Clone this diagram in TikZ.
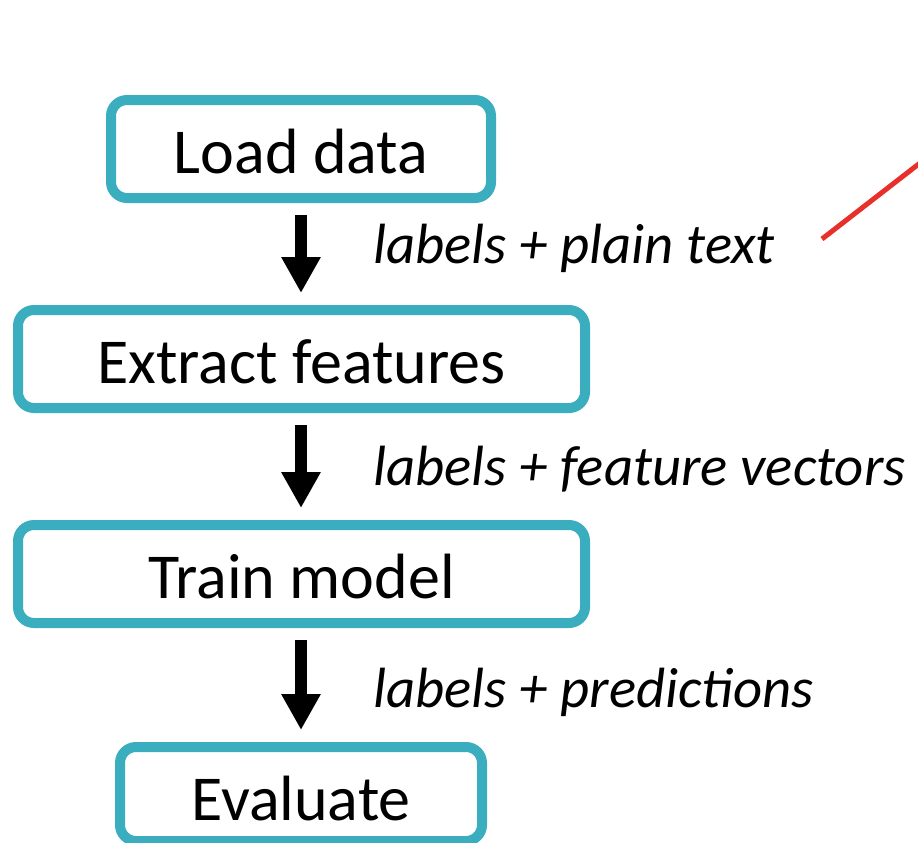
\documentclass[tikz,border=0pt]{standalone}
\usepackage{fontspec}
\setmainfont{Carlito}
\usetikzlibrary{arrows.meta}
\definecolor{tealbox}{HTML}{3AADBE}
\definecolor{redline}{HTML}{E8302A}
\tikzset{
  stepbox/.style={draw=tealbox, line width=10pt, rounded corners=16pt, fill=white,
    inner sep=0pt, text height=48pt, text depth=0pt, minimum height=98pt,
    font=\fontsize{64}{66}\selectfont},
  flowarrow/.style={line width=12pt, -{Triangle[length=36pt,width=37pt]},
    shorten <=12pt, shorten >=12pt},
  edgelabel/.style={anchor=base west, inner sep=0pt,
    font=\fontsize{56.7}{60}\selectfont\itshape}
}
\begin{document}
\begin{tikzpicture}[x=1pt,y=-1pt]
\useasboundingbox (0,0) rectangle (918,843);
\node[stepbox, minimum width=380pt] (load) at (301,149) {Load data};
\node[stepbox, minimum width=567pt] (extract) at (301.5,359) {Extract features};
\node[stepbox, minimum width=567pt] (train) at (301.5,574) {Train model};
\node[stepbox, minimum width=362pt, minimum height=94pt, text height=52pt] (eval) at (301,794) {Evaluate};
\draw[flowarrow] (load.south) -- (load.south |- extract.north);
\draw[flowarrow] (load.south |- extract.south) -- (load.south |- train.north);
\draw[flowarrow] (load.south |- train.south) -- (load.south |- eval.north);
\node[edgelabel] (l1) at (373,263) {labels + plain text};
\node[edgelabel] (l2) at (373,485) {labels + feature vectors};
\node[edgelabel] (l3) at (373,707) {labels + predictions};
\coordinate (r1) at (822,239);
\coordinate (r2) at (920,163);
\draw[redline, line width=5pt] (r1) -- (r2);
\end{tikzpicture}
\end{document}
